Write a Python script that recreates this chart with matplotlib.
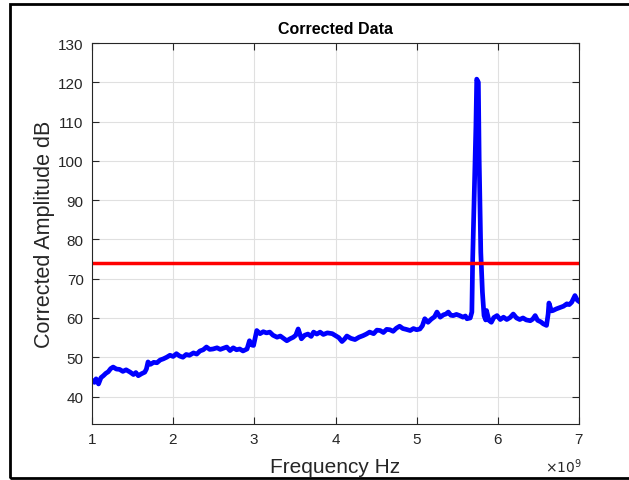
import matplotlib.pyplot as plt
from matplotlib.patches import Rectangle
from matplotlib.ticker import ScalarFormatter

# frequency in GHz (scaled to Hz when plotting) and corrected amplitude in dB
freq_ghz = [
    1.00, 1.03, 1.05, 1.08, 1.11, 1.14, 1.17, 1.20, 1.23, 1.26, 1.30, 1.34,
    1.38, 1.42, 1.47, 1.51, 1.54, 1.57, 1.61, 1.65, 1.67, 1.69, 1.72, 1.76,
    1.80, 1.84, 1.88, 1.92, 1.96, 2.00, 2.04, 2.08, 2.12, 2.16, 2.20, 2.25,
    2.29, 2.33, 2.37, 2.41, 2.45, 2.49, 2.54, 2.58, 2.62, 2.66, 2.70, 2.74,
    2.78, 2.82, 2.86, 2.91, 2.94, 2.97, 2.99, 3.03, 3.07, 3.11, 3.15, 3.19,
    3.23, 3.28, 3.32, 3.36, 3.40, 3.44, 3.48, 3.51, 3.54, 3.58, 3.62, 3.66,
    3.70, 3.73, 3.77, 3.81, 3.85, 3.90, 3.96, 4.00, 4.04, 4.08, 4.11, 4.14,
    4.19, 4.24, 4.29, 4.34, 4.38, 4.42, 4.47, 4.51, 4.55, 4.59, 4.63, 4.67,
    4.71, 4.75, 4.79, 4.83, 4.87, 4.92, 4.96, 5.00, 5.04, 5.07, 5.10, 5.14,
    5.18, 5.22, 5.25, 5.29, 5.33, 5.36, 5.39, 5.42, 5.45, 5.49, 5.53, 5.57,
    5.60, 5.62, 5.66, 5.68, 5.69, 5.71, 5.73, 5.74, 5.76, 5.77, 5.79, 5.81,
    5.83, 5.85, 5.86, 5.89, 5.92, 5.95, 5.99, 6.03, 6.07, 6.11, 6.15, 6.19,
    6.23, 6.27, 6.31, 6.35, 6.40, 6.43, 6.46, 6.49, 6.53, 6.56, 6.60, 6.62,
    6.63, 6.66, 6.68, 6.72, 6.77, 6.81, 6.85, 6.88, 6.91, 6.95, 6.98, 7.00,
]
amplitude_db = [
    44.1, 43.6, 44.5, 43.2, 44.8, 45.3, 45.9, 46.3, 47.1, 47.5, 47.0, 46.9,
    46.4, 46.8, 46.2, 45.6, 46.1, 45.3, 45.8, 46.2, 47.0, 48.8, 48.2, 48.7,
    48.6, 49.3, 49.6, 50.0, 50.5, 50.2, 50.9, 50.3, 50.0, 50.7, 50.5, 51.1,
    50.8, 51.6, 51.9, 52.6, 52.0, 52.1, 52.4, 52.0, 52.3, 52.6, 51.7, 52.4,
    51.9, 52.1, 51.6, 52.1, 54.2, 53.1, 53.0, 56.8, 56.0, 56.5, 56.2, 56.4,
    55.6, 55.1, 55.4, 54.8, 54.2, 54.7, 55.1, 55.6, 57.2, 54.7, 55.6, 55.9,
    55.3, 56.4, 55.9, 56.4, 55.8, 56.2, 56.0, 55.5, 55.0, 54.0, 54.6, 55.4,
    54.8, 54.5, 55.1, 55.5, 55.9, 56.4, 56.0, 56.9, 56.8, 56.3, 57.1, 57.0,
    56.6, 57.4, 57.9, 57.3, 57.1, 56.8, 57.3, 57.0, 57.2, 58.0, 59.8, 58.9,
    59.7, 60.3, 61.5, 60.2, 60.8, 61.0, 61.5, 60.7, 60.6, 60.9, 60.6, 60.2,
    60.5, 59.8, 60.0, 61.5, 75.0, 92.0, 109.0, 120.8, 120.0, 100.5, 76.7, 66.6,
    60.6, 59.5, 61.9, 59.4, 58.9, 60.1, 60.6, 59.6, 60.2, 59.6, 60.1, 61.0,
    60.0, 59.6, 60.0, 59.5, 59.3, 59.7, 60.6, 59.4, 59.0, 58.5, 58.1, 61.0,
    63.8, 61.8, 61.9, 62.3, 62.7, 63.0, 63.6, 63.4, 64.0, 65.7, 64.5, 64.2,
]
threshold_db = 74

plt.rcParams["font.family"] = ["Liberation Sans", "DejaVu Sans"]

fig = plt.figure(figsize=(6.29, 4.81), dpi=100)
ax = fig.add_axes([0.1463, 0.1164, 0.7742, 0.7921])

freq_hz = [f * 1e9 for f in freq_ghz]
ax.plot(freq_hz, amplitude_db, color="#0000ff", lw=3.4, solid_joinstyle="round")
ax.axhline(threshold_db, color="#ff0000", lw=2.5)

ax.set_xlim(1e9, 7e9)
ax.set_ylim(33, 130)
ax.set_xticks([i * 1e9 for i in range(1, 8)])
ax.set_yticks(range(40, 131, 10))

fmt = ScalarFormatter(useMathText=True)
ax.xaxis.set_major_formatter(fmt)
ax.xaxis.get_offset_text().set_visible(False)
# exponent label, placed like MATLAB does it
ax.text(1.006, -0.11, r"$\times10^{9}$", transform=ax.transAxes,
        ha="right", va="center", fontsize=10, color="#262626")

ax.grid(True, color="#e0e0e0", lw=0.8)
ax.set_axisbelow(True)
ax.tick_params(direction="in", length=5, width=0.8, top=True, right=True,
               labelsize=11, colors="#262626")
ax.tick_params(axis="x", pad=6)
ax.tick_params(axis="y", pad=6)
for s in ax.spines.values():
    s.set_color("#262626")
    s.set_linewidth(0.8)

ax.set_title("Corrected Data", fontsize=11.5, fontweight="bold", pad=7)
ax.set_xlabel("Frequency Hz", fontsize=15, color="#262626")
ax.set_ylabel("Corrected Amplitude dB", fontsize=15.5, color="#262626")
ax.xaxis.set_label_coords(0.5, -0.086)
ax.yaxis.set_label_coords(-0.076, 0.5)

# black frame round the figure
fig.patches.append(Rectangle((10 / 629, 2 / 481), 1.0, 474 / 481,
                             transform=fig.transFigure, fill=False,
                             edgecolor="black", lw=2))

fig.savefig("out.png", dpi=100)
